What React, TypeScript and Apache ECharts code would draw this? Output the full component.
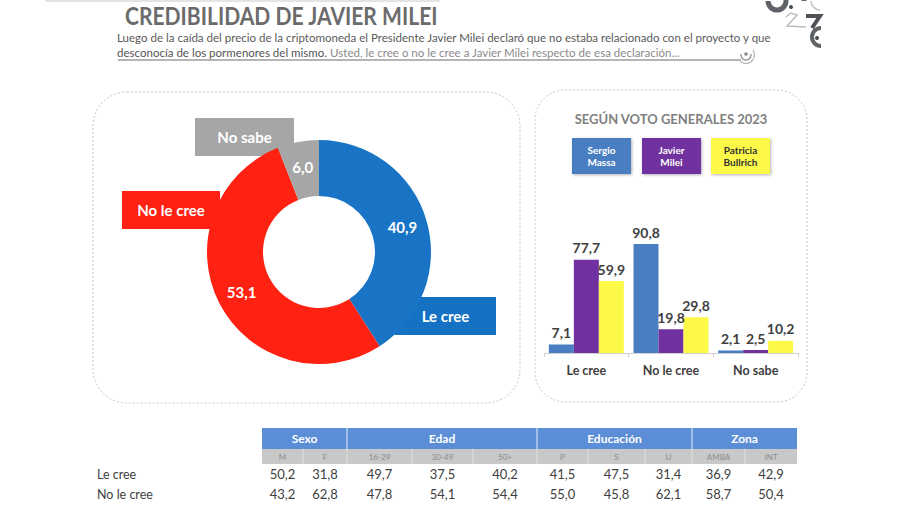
import React, { useEffect, useRef } from "react";
import * as echarts from "echarts";

// ---------- DATA ----------
const TITLE = "CREDIBILIDAD DE JAVIER MILEI";
const SUBTITLE_1 =
  "Luego de la caída del precio de la criptomoneda el Presidente Javier Milei declaró que no estaba relacionado con el proyecto y que";
const SUBTITLE_2A = "desconocía de los pormenores del mismo.";
const SUBTITLE_2B = " Usted, le cree o no le cree a Javier Milei respecto de esa declaración...";

const donutCategories = ["Le cree", "No le cree", "No sabe"];
const donutValues = [40.9, 53.1, 6.0];

const barTitle = "SEGÚN VOTO GENERALES 2023";
const barCategories = ["Le cree", "No le cree", "No sabe"];
const candidates = ["Sergio Massa", "Javier Milei", "Patricia Bullrich"];
const massaValues = [7.1, 90.8, 2.1];
const mileiValues = [77.7, 19.8, 2.5];
const bullrichValues = [59.9, 29.8, 10.2];

const tableGroups = ["Sexo", "Edad", "Educación", "Zona"];
const tableGroupSpans = [2, 3, 3, 2];
const tableSubcols = ["M", "F", "16-29", "30-49", "50+", "P", "S", "U", "AMBA", "INT"];
const tableRowLabels = ["Le cree", "No le cree"];
const leCreeRow = [50.2, 31.8, 49.7, 37.5, 40.2, 41.5, 47.5, 31.4, 36.9, 42.9];
const noLeCreeRow = [43.2, 62.8, 47.8, 54.1, 54.4, 55.0, 45.8, 62.1, 58.7, 50.4];

// ---------- STYLE / LAYOUT ----------
const FONT = "Lato, 'Open Sans', 'DejaVu Sans', sans-serif";
const donutColors = ["#1a74c6", "#ff2112", "#a6a6a6"];
const donutBoxColors = ["#1471c4", "#ff2112", "#a6a6a6"];
// name boxes [x, y, w, h]
const donutBoxes = [
  [395, 297, 101, 38],
  [122, 191, 98, 38],
  [195, 118, 99, 38],
];
const candColors = ["#4a7ec2", "#7130a0", "#fcf948"];
const candTextColors = ["#ffffff", "#ffffff", "#333333"];
const legendBoxX = [572, 642, 711];
const colEdges = [262, 303, 347, 412, 473, 537, 588, 645, 692, 745, 797];

const fmt = (v: number) => v.toFixed(1).replace(".", ",");

let measureCtx: CanvasRenderingContext2D | null = null;
function measure(text: string, font: string) {
  if (!measureCtx) measureCtx = document.createElement("canvas").getContext("2d");
  if (!measureCtx) return text.length * 6;
  measureCtx.font = font;
  return measureCtx.measureText(text).width;
}

function buildGraphics() {
  const g: any[] = [];
  // top faint line
  g.push({ type: "line", shape: { x1: 45, y1: 1, x2: 440, y2: 1 }, style: { stroke: "#e4e4e4", lineWidth: 2 }, silent: true });

  // Title
  const titleFont = `bold 24px Lato`;
  const tScale = 313 / measure(TITLE, titleFont);
  g.push({
    type: "text", x: 125, y: 16, scaleX: tScale,
    style: { text: TITLE, fontSize: 24, fontWeight: "bold", fontFamily: FONT, fill: "#6b6b6b", textAlign: "left", textVerticalAlign: "middle" },
  });

  // Subtitle
  const subFont = `11px Lato`;
  const sScale = 655 / measure(SUBTITLE_1, subFont);
  g.push({
    type: "text", x: 117, y: 38, scaleX: sScale,
    style: { text: SUBTITLE_1, fontSize: 11, fontFamily: FONT, fill: "#5a5a5a", textAlign: "left", textVerticalAlign: "middle" },
  });
  g.push({
    type: "text", x: 117, y: 53, scaleX: sScale,
    style: { text: SUBTITLE_2A, fontSize: 11, fontFamily: FONT, fill: "#555555", textAlign: "left", textVerticalAlign: "middle" },
  });
  const w2a = measure(SUBTITLE_2A, subFont) * sScale;
  g.push({
    type: "text", x: 117 + w2a, y: 53, scaleX: sScale,
    style: { text: SUBTITLE_2B, fontSize: 11, fontFamily: FONT, fill: "#8a8a8a", textAlign: "left", textVerticalAlign: "middle" },
  });
  g.push({ type: "line", shape: { x1: 118, y1: 60, x2: 741, y2: 60 }, style: { stroke: "#9d9d9d", lineWidth: 1.5 }, silent: true });
  // little swirl at underline end
  g.push({ type: "arc", shape: { cx: 746, cy: 55, r: 5, startAngle: -0.2, endAngle: Math.PI + 0.2, clockwise: true }, style: { stroke: "#9a9a9a", lineWidth: 1.5, fill: "none" } });
  g.push({ type: "arc", shape: { cx: 746, cy: 55, r: 8.5, startAngle: -0.6, endAngle: Math.PI * 0.8, clockwise: true }, style: { stroke: "#b5b5b5", lineWidth: 1.2, fill: "none" } });
  g.push({ type: "circle", shape: { cx: 746, cy: 54, r: 1.8 }, style: { fill: "#8a8a8a" } });

  // Logo (top right)
  g.push({ type: "arc", shape: { cx: 777, cy: 1, r: 9, startAngle: 0, endAngle: Math.PI, clockwise: true }, style: { stroke: "#5f6266", lineWidth: 5, fill: "none" } });
  g.push({ type: "arc", shape: { cx: 795, cy: 1, r: 9, startAngle: 0, endAngle: Math.PI, clockwise: false }, style: { stroke: "#5f6266", lineWidth: 5, fill: "none" } });
  g.push({ type: "circle", shape: { cx: 791, cy: 7, r: 2 }, style: { fill: "#4a4d50" } });
  g.push({ type: "arc", shape: { cx: 820, cy: 1, r: 9, startAngle: Math.PI / 2, endAngle: Math.PI, clockwise: true }, style: { stroke: "#c4c4c4", lineWidth: 1.5, fill: "none" } });
  g.push({ type: "polyline", shape: { points: [[786, 17], [791, 13], [797, 15], [787, 26], [806, 27]] }, style: { stroke: "#bdbdbd", lineWidth: 1.5, fill: "none" } });
  g.push({ type: "polyline", shape: { points: [[806, 16], [820, 16], [812, 28]] }, style: { stroke: "#4f5256", lineWidth: 4, fill: "none" } });
  g.push({ type: "arc", shape: { cx: 821, cy: 37, r: 9, startAngle: Math.PI / 2, endAngle: Math.PI * 1.5, clockwise: true }, style: { stroke: "#5f6266", lineWidth: 4, fill: "none" } });
  g.push({ type: "circle", shape: { cx: 817, cy: 38, r: 2 }, style: { fill: "#4a4d50" } });

  // Panels
  g.push({ type: "rect", shape: { x: 93, y: 92, width: 427, height: 311, r: 34 }, style: { fill: "none", stroke: "#c4c4c4", lineWidth: 1, lineDash: [2, 2] }, silent: true });
  g.push({ type: "rect", shape: { x: 535, y: 90, width: 272, height: 312, r: 30 }, style: { fill: "none", stroke: "#c4c4c4", lineWidth: 1, lineDash: [2, 2] }, silent: true });

  // Donut name boxes
  donutCategories.forEach((name, i) => {
    const [x, y, w, h] = donutBoxes[i];
    g.push({ type: "rect", shape: { x, y, width: w, height: h }, style: { fill: donutBoxColors[i] } });
    g.push({
      type: "text", x: x + w / 2, y: y + h / 2,
      style: { text: name, fontSize: 15, fontWeight: "bold", fontFamily: FONT, fill: "#ffffff", textAlign: "center", textVerticalAlign: "middle" },
    });
  });

  // Bar panel title
  g.push({
    type: "text", x: 671, y: 119,
    style: { text: barTitle, fontSize: 13, fontWeight: "bold", fontFamily: FONT, fill: "#7f7f7f", textAlign: "center", textVerticalAlign: "middle" },
  });
  // Legend boxes
  candidates.forEach((name, i) => {
    const x = legendBoxX[i];
    g.push({ type: "rect", shape: { x, y: 138, width: 59, height: 36 }, style: { fill: candColors[i], shadowBlur: 3, shadowColor: "rgba(0,0,0,0.3)", shadowOffsetY: 1, shadowOffsetX: 1 } });
    g.push({
      type: "text", x: x + 29.5, y: 156,
      style: { text: name.replace(" ", "\n"), fontSize: 10, lineHeight: 12, fontWeight: "bold", fontFamily: FONT, fill: candTextColors[i], textAlign: "center", textVerticalAlign: "middle" },
    });
  });

  // Table
  const hTop = 428, hMid = 449, hBot = 464;
  let c = 0;
  tableGroups.forEach((grp, gi) => {
    const x0 = colEdges[c];
    const x1 = colEdges[c + tableGroupSpans[gi]];
    g.push({ type: "rect", shape: { x: x0, y: hTop, width: x1 - x0, height: hMid - hTop }, style: { fill: "#5b8ed7" } });
    g.push({
      type: "text", x: (x0 + x1) / 2, y: (hTop + hMid) / 2,
      style: { text: grp, fontSize: 12, fontWeight: "bold", fontFamily: FONT, fill: "#ffffff", textAlign: "center", textVerticalAlign: "middle" },
    });
    if (gi > 0) g.push({ type: "line", shape: { x1: x0, y1: hTop, x2: x0, y2: hMid }, style: { stroke: "#e8eefa", lineWidth: 1 } });
    c += tableGroupSpans[gi];
  });
  tableSubcols.forEach((sc, i) => {
    const x0 = colEdges[i], x1 = colEdges[i + 1];
    g.push({ type: "rect", shape: { x: x0, y: hMid, width: x1 - x0, height: hBot - hMid }, style: { fill: "#c8c8c8" } });
    if (i > 0) g.push({ type: "line", shape: { x1: x0, y1: hMid, x2: x0, y2: hBot }, style: { stroke: "#e2e2e2", lineWidth: 1 } });
    g.push({
      type: "text", x: (x0 + x1) / 2, y: (hMid + hBot) / 2,
      style: { text: sc, fontSize: 8, fontFamily: FONT, fill: "#8c8c8c", textAlign: "center", textVerticalAlign: "middle" },
    });
  });
  const rows = [leCreeRow, noLeCreeRow];
  const rowY = [474, 494];
  rows.forEach((row, ri) => {
    g.push({
      type: "text", x: 97, y: rowY[ri],
      style: { text: tableRowLabels[ri], fontSize: 12.5, fontFamily: FONT, fill: "#404040", textAlign: "left", textVerticalAlign: "middle" },
    });
    row.forEach((v, i) => {
      const cx = (colEdges[i] + colEdges[i + 1]) / 2;
      g.push({
        type: "text", x: cx, y: rowY[ri],
        style: { text: fmt(v), fontSize: 13, fontFamily: FONT, fill: "#404040", textAlign: "center", textVerticalAlign: "middle" },
      });
    });
  });
  return g;
}

export default function App() {
  const ref = useRef<HTMLDivElement>(null);
  useEffect(() => {
    document.body.style.margin = "0";
    if (!ref.current) return;
    const chart = echarts.init(ref.current, undefined, { renderer: "svg" });
    const barSeriesValues = [massaValues, mileiValues, bullrichValues];
    chart.setOption({
      animation: false,
      backgroundColor: "#ffffff",
      textStyle: { fontFamily: FONT },
      grid: { left: 544, width: 254, top: 233, height: 120 },
      xAxis: {
        type: "category",
        data: barCategories,
        axisLine: { lineStyle: { color: "#d0d0d0" } },
        axisTick: { show: true, length: 4, lineStyle: { color: "#d0d0d0" } },
        axisLabel: { color: "#404040", fontWeight: "bold", fontSize: 12.5, fontFamily: FONT, margin: 11 },
      },
      yAxis: { type: "value", min: 0, max: 100, show: false, splitLine: { show: false } },
      series: [
        {
          type: "pie",
          center: [319, 252],
          radius: [56, 112],
          startAngle: 90,
          clockwise: true,
          silent: true,
          data: donutCategories.map((n, i) => ({ name: n, value: donutValues[i], itemStyle: { color: donutColors[i] } })),
          label: {
            show: true, position: "inside", formatter: (p: any) => fmt(p.value),
            color: "#ffffff", fontWeight: "bold", fontSize: 15, fontFamily: FONT,
          },
          labelLine: { show: false },
        },
        ...candidates.map((name, i) => ({
          type: "bar",
          name,
          data: barSeriesValues[i],
          barWidth: 25,
          barGap: "0%",
          itemStyle: { color: candColors[i] },
          label: {
            show: true, position: "top", distance: 5, formatter: (p: any) => fmt(p.value),
            color: "#404040", fontWeight: "bold", fontSize: 14, fontFamily: FONT,
          },
        })),
      ],
      graphic: { elements: buildGraphics() },
    });
    return () => chart.dispose();
  }, []);
  return <div ref={ref} style={{ position: "absolute", left: 0, top: 0, width: 900, height: 505 }} />;
}
